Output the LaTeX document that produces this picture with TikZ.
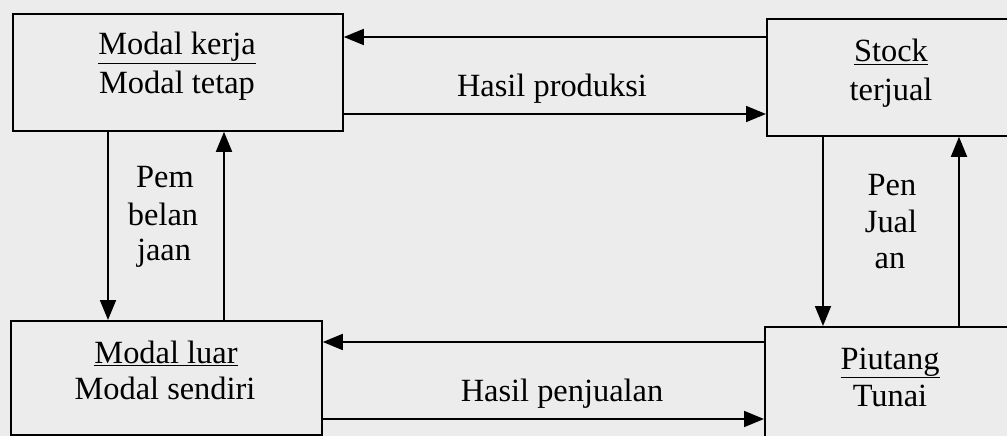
\documentclass[tikz,border=0pt]{standalone}
\usepackage{fontspec}
\setmainfont{Liberation Serif}
\usetikzlibrary{arrows.meta}
\definecolor{bg}{RGB}{236,236,236}
\begin{document}
\begin{tikzpicture}[x=1pt,y=-1pt,
  box/.style={draw, line width=1.8pt, rectangle, inner sep=0pt, anchor=north west},
  txt/.style={font=\fontsize{32.4}{38}\selectfont, inner sep=0pt, anchor=base},
  arr/.style={line width=1.8pt, -{Triangle[length=20pt,width=16pt]}}]
\useasboundingbox (0,0) rectangle (1007,436);
\fill[bg] (0,0) rectangle (1007,436);
\clip (0,0) rectangle (1007,436);
% boxes
\node[box, minimum width=330pt, minimum height=117pt] (tl) at (12,13) {};
\node[box, minimum width=262pt, minimum height=117pt] (tr) at (766,18) {};
\node[box, minimum width=311pt, minimum height=114pt] (bl) at (10,320) {};
\node[box, minimum width=262pt, minimum height=130pt] (br) at (764,326) {};
% box texts
\node[txt] (tl1) at (177,55) {\underline{Modal kerja}};
\node[txt] (tl2) at (177,93) {Modal tetap};
\node[txt] (tr1) at (891,62) {\underline{Stock}};
\node[txt] (tr2) at (891,100) {terjual};
\node[txt] (bl1) at (166,363) {\underline{Modal luar}};
\node[txt] (bl2) at (165,399) {Modal sendiri};
\node[txt] (br1) at (890,369) {\underline{Piutang}};
\node[txt] (br2) at (890,406) {Tunai};
% horizontal connectors
\draw[arr] (tr.west |- 0,37) -- (tl.east |- 0,37);
\draw[arr] (tl.east |- 0,114) -- (tr.west |- 0,114);
\node[txt] (hp) at (552,96) {Hasil produksi};
\draw[arr] (br.west |- 0,342) -- (bl.east |- 0,342);
\draw[arr] (bl.east |- 0,419) -- (br.west |- 0,419);
\node[txt] (hj) at (562,401) {Hasil penjualan};
% vertical connectors left
\draw[arr] (tl.south -| 108,0) -- (bl.north -| 108,0);
\draw[arr] (bl.north -| 224,0) -- (tl.south -| 224,0);
\node[txt] (p1) at (165,187) {Pem};
\node[txt] (p2) at (163,225) {belan};
\node[txt] (p3) at (164,260) {jaan};
% vertical connectors right
\draw[arr] (tr.south -| 823,0) -- (br.north -| 823,0);
\draw[arr] (br.north -| 959,0) -- (tr.south -| 959,0);
\node[txt] (q1) at (892,195) {Pen};
\node[txt] (q2) at (891,232) {Jual};
\node[txt] (q3) at (890,268) {an};
\end{tikzpicture}
\end{document}
